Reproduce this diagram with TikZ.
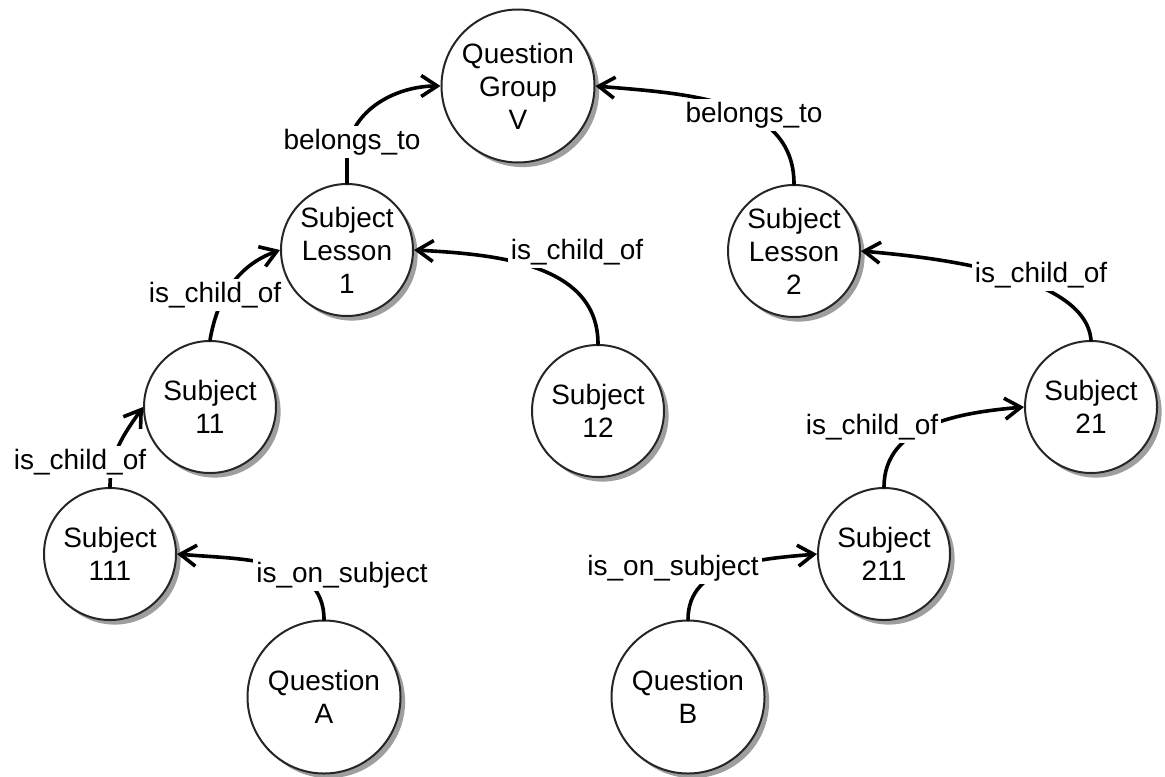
\documentclass[tikz,border=0pt]{standalone}
\usepackage{fontspec}
\setmainfont{Liberation Sans}
\usetikzlibrary{arrows.meta,shadows}
\begin{document}
\begin{tikzpicture}[x=0.5pt,y=0.5pt,
  font=\fontsize{14}{16.5}\selectfont,
  entity/.style={circle,draw=black!85,line width=1pt,fill=white,inner sep=0pt,
    align=center,minimum size=66pt,
    drop shadow={shadow xshift=2.3pt,shadow yshift=-2.3pt,fill=black!38,opacity=1}},
  bigentity/.style={entity,minimum size=76.5pt},
  rel/.style={line width=1.8pt,line cap=round,
    -{Straight Barb[length=8pt,width=10.5pt]}},
  tag/.style={fill=white,inner sep=1.5pt}]

\useasboundingbox (0,0) rectangle (1165,-776);

% entities
\node[bigentity] (qg)   at (518,-86)  {Question\\Group\\V};
\node[entity]    (sl1)  at (347,-250) {Subject\\Lesson\\1};
\node[entity]    (sl2)  at (794,-251) {Subject\\Lesson\\2};
\node[entity]    (s11)  at (210,-407) {Subject\\11};
\node[entity]    (s12)  at (598,-411) {Subject\\12};
\node[entity]    (s21)  at (1091,-407) {Subject\\21};
\node[entity]    (s111) at (110,-554) {Subject\\111};
\node[entity]    (s211) at (884,-554) {Subject\\211};
\node[bigentity] (qa)   at (324,-697) {Question\\A};
\node[bigentity] (qb)   at (688,-697) {Question\\B};

% relations
\draw[rel] (sl1.north) -- ++(0,25) to[out=90,in=180] (qg.west);
\draw[rel] (sl2.north) to[out=90,in=-5] (qg.east);
\draw[rel] (s12.north) to[out=90,in=-3] (sl1.east);
\draw[rel] (s11.north) to[out=80,in=200] (sl1.west);
\draw[rel] (s21.north) to[out=95,in=-5,looseness=0.7] (sl2.east);
\draw[rel] (s111.north) to[out=90,in=235] (s11.west);
\draw[rel] (qa.north) to[out=90,in=-5] (s111.east);
\draw[rel] (qb.north) to[out=90,in=185] (s211.west);
\draw[rel] (s211.north) to[out=90,in=185] (s21.west);

% relation names
\node[tag] (t1) at (352,-142) {belongs\_to};
\node[tag] (t2) at (754,-115) {belongs\_to};
\node[tag] (t3) at (577,-252) {is\_child\_of};
\node[tag] (t4) at (215,-295) {is\_child\_of};
\node[tag] (t5) at (1041,-275) {is\_child\_of};
\node[tag] (t6) at (80,-462) {is\_child\_of};
\node[tag] (t7) at (342,-575) {is\_on\_subject};
\node[tag] (t8) at (673,-568) {is\_on\_subject};
\node[tag] (t9) at (872,-427) {is\_child\_of};
\end{tikzpicture}
\end{document}
